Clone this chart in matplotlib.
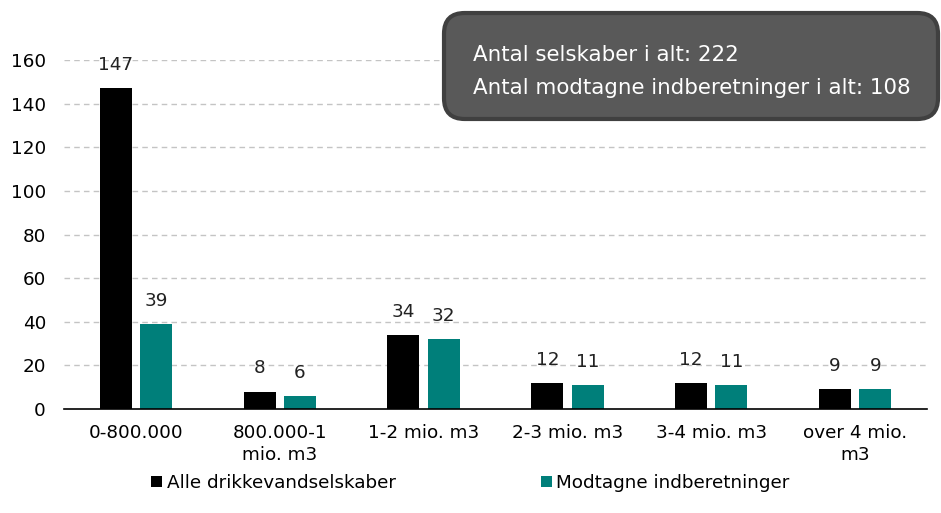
import matplotlib.pyplot as plt
import numpy as np
from matplotlib.patches import FancyBboxPatch

categories = ["0-800.000", "800.000-1\nmio. m3", "1-2 mio. m3", "2-3 mio. m3", "3-4 mio. m3", "over 4 mio.\nm3"]
alle = [147, 8, 34, 12, 12, 9]
modtagne = [39, 6, 32, 11, 11, 9]
series_names = ["Alle drikkevandselskaber", "Modtagne indberetninger"]
yticks = [0, 20, 40, 60, 80, 100, 120, 140, 160]
box_lines = ["Antal selskaber i alt: 222", "Antal modtagne indberetninger i alt: 108"]

plt.rcParams['font.family'] = ['DejaVu Sans']
fs = 13.2

fig = plt.figure(figsize=(9.41, 5.13), dpi=100)
ax = fig.add_axes([64 / 941, 1 - 409 / 513, (927 - 64) / 941, 349 / 513])

x = np.arange(len(categories))
w = 0.222
off = 0.14
b1 = ax.bar(x - off, alle, w, color="#000000", label=series_names[0], zorder=3)
b2 = ax.bar(x + off, modtagne, w, color="#007F7A", label=series_names[1], zorder=3)

# value labels above the bars
for bars, vals in [(b1, alle), (b2, modtagne)]:
    for r, v in zip(bars, vals):
        ax.text(r.get_x() + r.get_width() / 2, v + 6.5, str(v), ha="center", va="bottom", fontsize=fs, color="#222222")

ax.set_xlim(-0.5, len(categories) - 0.5)
ax.set_ylim(0, 160)
ax.set_yticks(yticks)
ax.set_yticklabels([str(t) for t in yticks], fontsize=fs)
ax.set_xticks(x)
ax.set_xticklabels(categories, fontsize=fs, linespacing=1.3)
ax.tick_params(axis="y", length=0, pad=13)
ax.tick_params(axis="x", length=0, pad=11)
for t in yticks[1:]:
    ax.axhline(t, color="#c4c4c4", linestyle=(0, (4, 3)), linewidth=1, zorder=1)
for s in ["top", "right", "left"]:
    ax.spines[s].set_visible(False)
ax.spines["bottom"].set_color("#000000")
ax.spines["bottom"].set_linewidth(1.2)
ax.spines["bottom"].set_zorder(4)

leg = fig.legend(loc="center", bbox_to_anchor=(0.5, 1 - 483 / 513), ncol=2, frameon=False,
                 fontsize=fs, handlelength=0.6, handleheight=0.6, handletextpad=0.25, columnspacing=7.9)

# info box
box = FancyBboxPatch((444 / 941, 1 - 119 / 513), (938 - 444) / 941, (119 - 13) / 513,
                     boxstyle="round,pad=0,rounding_size=0.022", transform=fig.transFigure,
                     facecolor="#595959", edgecolor="#404040", linewidth=3, zorder=10, mutation_aspect=941 / 513)
fig.patches.append(box)
fig.text(473 / 941, 1 - 55 / 513, box_lines[0], color="white", fontsize=15.4, va="center", ha="left", zorder=11)
fig.text(473 / 941, 1 - 88 / 513, box_lines[1], color="white", fontsize=15.4, va="center", ha="left", zorder=11)

fig.savefig("out.png", dpi=100)
